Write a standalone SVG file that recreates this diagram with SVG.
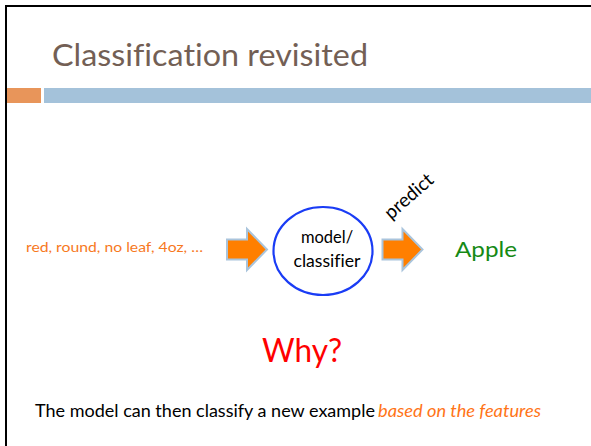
<svg xmlns="http://www.w3.org/2000/svg" width="591" height="446" viewBox="0 0 591 446">
  <style>
    text { font-family: Lato, "Open Sans", "Liberation Sans", sans-serif; font-variant-ligatures: none; }
    .title { font-size: 31px; fill: #735f55; }
    .body { font-size: 16.5px; fill: #000000; }
    .arrow { fill: #ff7f00; stroke: #a9c4dc; stroke-width: 2; }
  </style>
  <defs>
    <!-- block arrow pointing right, origin at left of shaft, vertical centre -->
    <path id="block-arrow" d="M0,-10 H20 V-20.5 L40,0 L20,20.5 V10 H0 Z"/>
  </defs>

  <rect x="0" y="0" width="591" height="446" fill="#ffffff"/>

  <!-- slide frame -->
  <path d="M6,446 V6 H591" fill="none" stroke="#000000" stroke-width="2"/>

  <!-- title and rule bars -->
  <g id="title">
    <text class="title" x="52" y="66" textLength="316" lengthAdjust="spacingAndGlyphs">Classification revisited</text>
    <rect x="7" y="88" width="34" height="15" fill="#e8955a"/>
    <rect x="44" y="88" width="547" height="15" fill="#a4c2da"/>
  </g>

  <g id="features">
    <text x="26" y="252" font-size="13.5" fill="#f7791e" textLength="177" lengthAdjust="spacingAndGlyphs">red, round, no leaf, 4oz, …</text>
  </g>

  <g id="connectors">
    <use href="#block-arrow" class="arrow" x="227" y="249.5"/>
    <use href="#block-arrow" class="arrow" x="382.5" y="249.5"/>
    <text x="413" y="201" font-size="19" fill="#000000" text-anchor="middle" transform="rotate(-41 413 201)">predict</text>
  </g>

  <g id="model">
    <ellipse cx="323" cy="251" rx="49.5" ry="44" fill="#ffffff" stroke="#1a3cf5" stroke-width="2.2"/>
    <text class="body" x="327" y="243" text-anchor="middle">model/</text>
    <text class="body" x="327" y="267" text-anchor="middle" textLength="67" lengthAdjust="spacingAndGlyphs">classifier</text>
  </g>

  <g id="apple">
    <text x="455" y="257" font-size="22" fill="#158a15" textLength="62" lengthAdjust="spacingAndGlyphs">Apple</text>
  </g>

  <g id="why">
    <text x="302" y="362" font-size="33" fill="#ff0000" text-anchor="middle" textLength="80" lengthAdjust="spacingAndGlyphs">Why?</text>
  </g>

  <g id="caption">
    <text x="35" y="417" font-size="17" fill="#000000" textLength="340" lengthAdjust="spacingAndGlyphs">The model can then classify a new example</text>
    <text x="378" y="417" font-size="17" fill="#ff7417" font-style="italic" textLength="163" lengthAdjust="spacingAndGlyphs">based on the features</text>
  </g>
</svg>
